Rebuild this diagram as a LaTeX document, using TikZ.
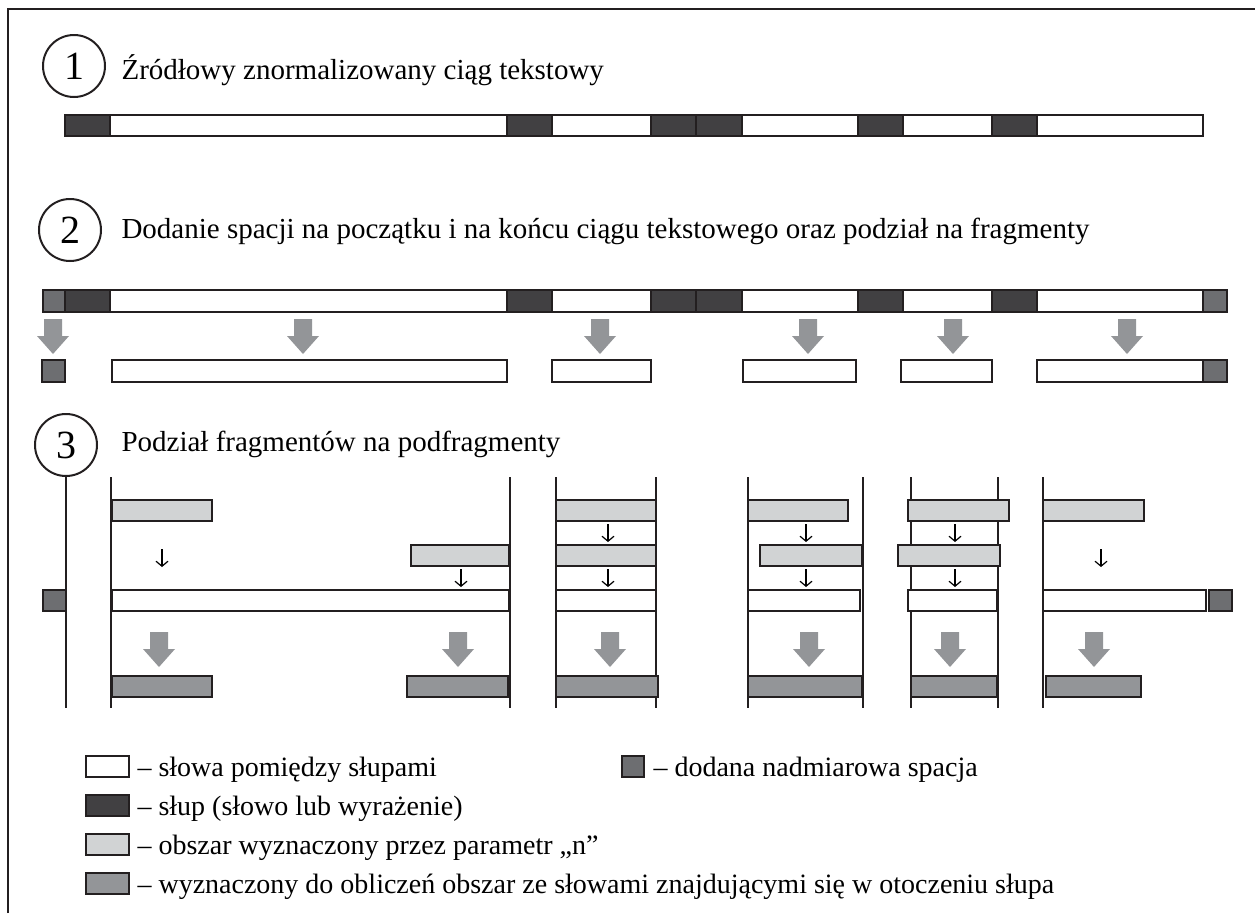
\documentclass[tikz,border=0pt]{standalone}
\usepackage{fontspec}
\setmainfont{Liberation Serif}
\usetikzlibrary{arrows.meta}
\definecolor{krawedz}{HTML}{231F20}
\definecolor{slupszary}{HTML}{414042}
\definecolor{spacjaszary}{HTML}{6D6E71}
\definecolor{jasnoszary}{HTML}{D1D3D4}
\definecolor{sredniszary}{HTML}{939598}
\definecolor{strzalkaszary}{HTML}{939598}
\begin{document}
\begin{tikzpicture}[x=1pt,y=-1pt,
  ramka/.style={draw=krawedz, line width=2pt},
  slowa/.style={ramka, fill=white},
  slup/.style={ramka, fill=slupszary},
  spacja/.style={ramka, fill=spacjaszary},
  obszar/.style={ramka, fill=jasnoszary},
  wynik/.style={ramka, fill=sredniszary},
  granica/.style={draw=krawedz, line width=2pt},
  numer/.style={circle, draw=krawedz, line width=2pt, minimum size=62pt, inner sep=0pt, font=\fontsize{40}{40}\selectfont},
  tytul/.style={anchor=base west, font=\fontsize{29}{34}\selectfont},
  opis/.style={anchor=base west, font=\fontsize{28}{32}\selectfont},
  malastrzalka/.style={-{Straight Barb[length=5pt,width=12pt]}, line width=1.2pt},
  pics/strzalka/.style={code={\fill[strzalkaszary] (-9,0) -- (9,0) -- (9,17) -- (16,17) -- (0,35) -- (-16,17) -- (-9,17) -- cycle;}}
]
\useasboundingbox (0,0) rectangle (1255,913);
\draw[krawedz, line width=2pt] (8,913) -- (8,9) -- (1255,9);

% Krok 1
\node[numer] (n1) at (74,66) {1};
\node[tytul] (t1) at (118,79) {Źródłowy znormalizowany ciąg tekstowy};
\draw[slowa] (110,115) rectangle (507,136) (552,115) rectangle (651,136) (742,115) rectangle (858,136)
  (903,115) rectangle (992,136) (1037,115) rectangle (1203,136);
\draw[slup] (65,115) rectangle (110,136) (507,115) rectangle (552,136) (651,115) rectangle (696,136)
  (696,115) rectangle (742,136) (858,115) rectangle (903,136) (992,115) rectangle (1037,136);

% Krok 2
\node[numer] (n2) at (70,230) {2};
\node[tytul] (t2) at (118,238) {Dodanie spacji na początku i na końcu ciągu tekstowego oraz podział na fragmenty};
\draw[slowa] (110,290) rectangle (507,312) (552,290) rectangle (651,312) (742,290) rectangle (858,312)
  (903,290) rectangle (992,312) (1037,290) rectangle (1203,312);
\draw[slup] (65,290) rectangle (110,312) (507,290) rectangle (552,312) (651,290) rectangle (696,312)
  (696,290) rectangle (742,312) (858,290) rectangle (903,312) (992,290) rectangle (1037,312);
\draw[spacja] (43,290) rectangle (65,312) (1203,290) rectangle (1227,312);
\pic at (53,319) {strzalka};
\pic at (303,319) {strzalka};
\pic at (600,319) {strzalka};
\pic at (808,319) {strzalka};
\pic at (953,319) {strzalka};
\pic at (1127,319) {strzalka};
\draw[slowa] (112,360) rectangle (507,382) (552,360) rectangle (651,382) (743,360) rectangle (856,382)
  (901,360) rectangle (992,382) (1037,360) rectangle (1203,382);
\draw[spacja] (42,360) rectangle (65,382) (1203,360) rectangle (1227,382);

% Krok 3
\node[numer] (n3) at (66,445) {3};
\node[tytul] (t3) at (118,451) {Podział fragmentów na podfragmenty};
\draw[granica] (n3.south) -- (n3.south |- 0,708);
\draw[granica] (111,477) -- (111,708) (510,477) -- (510,708) (556,477) -- (556,708) (656,477) -- (656,708)
  (748,477) -- (748,708) (863,477) -- (863,708) (911,477) -- (911,708) (998,477) -- (998,708)
  (1043,477) -- (1043,708);
\draw[obszar] (112,500) rectangle (212,521) (556,500) rectangle (656,521) (748,500) rectangle (848,521)
  (908,500) rectangle (1009,521) (1043,500) rectangle (1144,521); % podfragmenty "n"
\draw[obszar] (411,545) rectangle (509,566) (556,545) rectangle (656,566) (760,545) rectangle (862,566)
  (898,545) rectangle (1000,566);
\draw[slowa] (112,590) rectangle (509,611) (556,590) rectangle (656,611) (748,590) rectangle (860,611)
  (908,590) rectangle (997,611) (1043,590) rectangle (1206,611);
\draw[spacja] (43,590) rectangle (66,611) (1209,590) rectangle (1232,611);
\draw[malastrzalka] (162,549) -- (162,567);
\draw[malastrzalka] (461,569) -- (461,587);
\draw[malastrzalka] (608,524) -- (608,542);
\draw[malastrzalka] (608,569) -- (608,587);
\draw[malastrzalka] (806,524) -- (806,542);
\draw[malastrzalka] (806,569) -- (806,587);
\draw[malastrzalka] (955,524) -- (955,542);
\draw[malastrzalka] (955,569) -- (955,587);
\draw[malastrzalka] (1101,549) -- (1101,567);
\pic at (159,632) {strzalka};
\pic at (458,632) {strzalka};
\pic at (610,632) {strzalka};
\pic at (809,632) {strzalka};
\pic at (950,632) {strzalka};
\pic at (1094,632) {strzalka};
\draw[wynik] (112,676) rectangle (212,697) (407,676) rectangle (508,697) (556,676) rectangle (658,697)
  (748,676) rectangle (862,697) (911,676) rectangle (997,697) (1046,676) rectangle (1141,697);

% Legenda
\draw[slowa] (86,756) rectangle (129,777);
\node[opis] (l1) at (134,776) {– słowa pomiędzy słupami};
\draw[spacja] (622,756) rectangle (644,777);
\node[opis] (l2) at (650,776) {– dodana nadmiarowa spacja};
\draw[slup] (86,795) rectangle (129,816);
\node[opis] (l3) at (134,815) {– słup (słowo lub wyrażenie)};
\draw[obszar] (86,834) rectangle (129,855);
\node[opis] (l4) at (134,854) {– obszar wyznaczony przez parametr „n”};
\draw[wynik] (86,873) rectangle (129,894);
\node[opis] (l5) at (134,893) {– wyznaczony do obliczeń obszar ze słowami znajdującymi się w otoczeniu słupa};

\end{tikzpicture}
\end{document}
